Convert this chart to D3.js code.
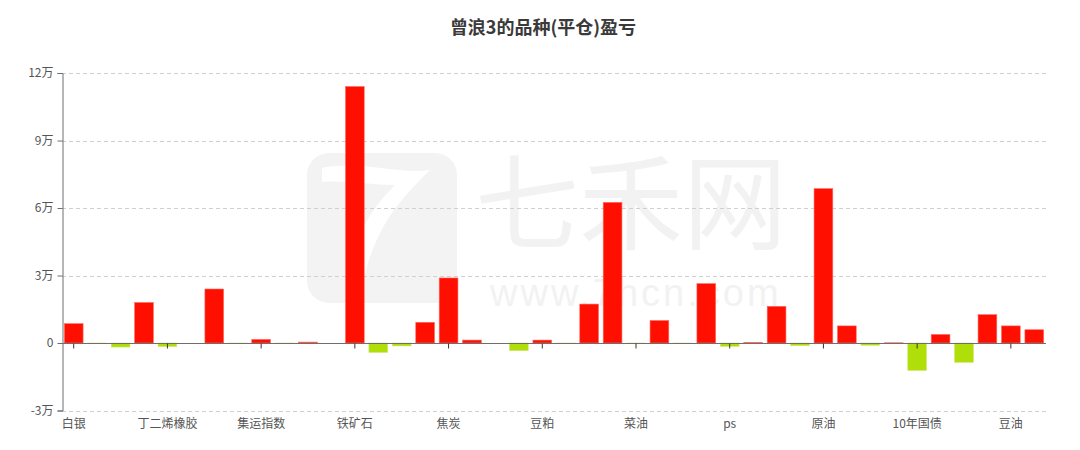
<!DOCTYPE html>
<html><head><meta charset="utf-8">
<script src="https://cdn.jsdelivr.net/npm/d3@7/dist/d3.min.js"></script>
<style>body{margin:0;background:#fff;}svg{display:block;font-family:"Noto Sans CJK SC","Noto Sans",sans-serif;}</style>
</head><body><svg id="c" width="1080" height="450"></svg>
<script>
const titleText = "曾浪3的品种(平仓)盈亏";
const categories = ["白银","黄金","沪铜","沪铝","丁二烯橡胶","橡胶","螺纹钢","热卷","集运指数","焦煤","沪镍","沪锌","铁矿石","锰硅","硅铁","玻璃","焦炭","纯碱","PTA","甲醇","豆粕","菜粕","棕榈油","豆一","菜油","白糖","棉花","苹果","ps","pp","塑料","燃料油","原油","沥青","5年国债","30年国债","10年国债","沪深300","中证500","上证50","豆油","玉米"];
const values = [8600,-300,-1800,18000,-1600,0,24000,-200,1600,-200,400,0,114000,-4200,-1300,9200,28900,1300,0,-3400,1300,-300,17300,62500,-300,10000,-300,26400,-1500,200,16300,-1200,68600,7600,-1000,100,-12200,3800,-8600,12600,7600,5900];
const yTicks = [-30000,0,30000,60000,90000,120000];
const yTickLabels = ["-3万","0","3万","6万","9万","12万"];
const labelEvery = 4;

(function(){
const svg = d3.select("#c");
const L = 62, R = 1046, T = 73, B = 410.5;
const x = d3.scaleBand().domain(categories).range([L, R]).paddingInner(0.2).paddingOuter(0.1);
const xc = d3.scaleBand().domain(categories).range([L, R]);
const y = d3.scaleLinear().domain([-30000,120000]).range([B, T]);

// watermark
const wm = svg.append("g").attr("fill","#f3f3f3");
wm.append("rect").attr("x",307).attr("y",153).attr("width",150).attr("height",150).attr("rx",22);
wm.append("path").attr("fill","#fff").attr("d","M322,168 C360,160 400,175 430,170 C400,200 370,230 360,300 L345,300 C350,240 370,210 395,185 C370,185 345,180 322,182 Z");
wm.append("text").attr("x",475).attr("y",242).attr("font-size",104).attr("fill","#f2f2f2").text("七禾网");
wm.append("text").attr("x",490).attr("y",306).attr("font-size",38).attr("letter-spacing",3)
  .attr("font-family","'Liberation Sans',sans-serif").attr("fill","#f2f2f2").text("www.7hcn.com");

// grid
svg.append("g").selectAll("line").data(yTicks.filter(d=>d!==0)).join("line")
  .attr("x1",L).attr("x2",R).attr("y1",d=>Math.round(y(d))+0.5).attr("y2",d=>Math.round(y(d))+0.5)
  .attr("stroke","#d0d0d0").attr("stroke-dasharray","4,3");

// bars
svg.append("g").selectAll("rect").data(values.map((v,i)=>({c:categories[i],v}))).join("rect")
  .attr("x",d=>x(d.c)).attr("width",x.bandwidth())
  .attr("y",d=>Math.min(y(d.v),y(0))).attr("height",d=>Math.abs(y(d.v)-y(0)))
  .attr("fill",d=>d.v>=0?"#ff0f00":"#b0de09")
  .attr("stroke",d=>d.v>=0?"#ff6a60":"#cfe86a").attr("stroke-width",0.6);

// y axis
const yAxis = d3.axisLeft(y).tickValues(yTicks).tickFormat((d,i)=>yTickLabels[i]).tickSize(5).tickPadding(4);
const ga = svg.append("g").attr("transform",`translate(${L+0.5},0)`).call(yAxis);
ga.select(".domain").attr("stroke","#6e6e6e");
ga.selectAll(".tick line").attr("stroke","#6e6e6e");
ga.selectAll("text").attr("fill","#555").attr("font-size",12).attr("font-family","'Noto Sans CJK SC',sans-serif");

// x axis at zero
const xAxis = d3.axisBottom(xc).tickValues(categories.filter((c,i)=>i%labelEvery===0)).tickSize(5).tickFormat(()=>"");
const gx = svg.append("g").attr("transform",`translate(0,${Math.round(y(0))+0.5})`).call(xAxis);
gx.select(".domain").attr("stroke","#6e6e6e").attr("d",`M${L},0H${R}`);
gx.selectAll(".tick line").attr("stroke","#333");

// x labels at bottom
svg.append("g").selectAll("text").data(categories.filter((c,i)=>i%labelEvery===0)).join("text")
  .attr("x",d=>xc(d)+xc.bandwidth()/2).attr("y",428).attr("text-anchor","middle")
  .attr("font-size",12).attr("fill","#555").text(d=>d);

// title
svg.append("text").attr("x",543).attr("y",34).attr("text-anchor","middle")
  .attr("font-size",18).attr("font-weight","bold").attr("fill","#3a3a3a").text(titleText);
})();
</script></body></html>
